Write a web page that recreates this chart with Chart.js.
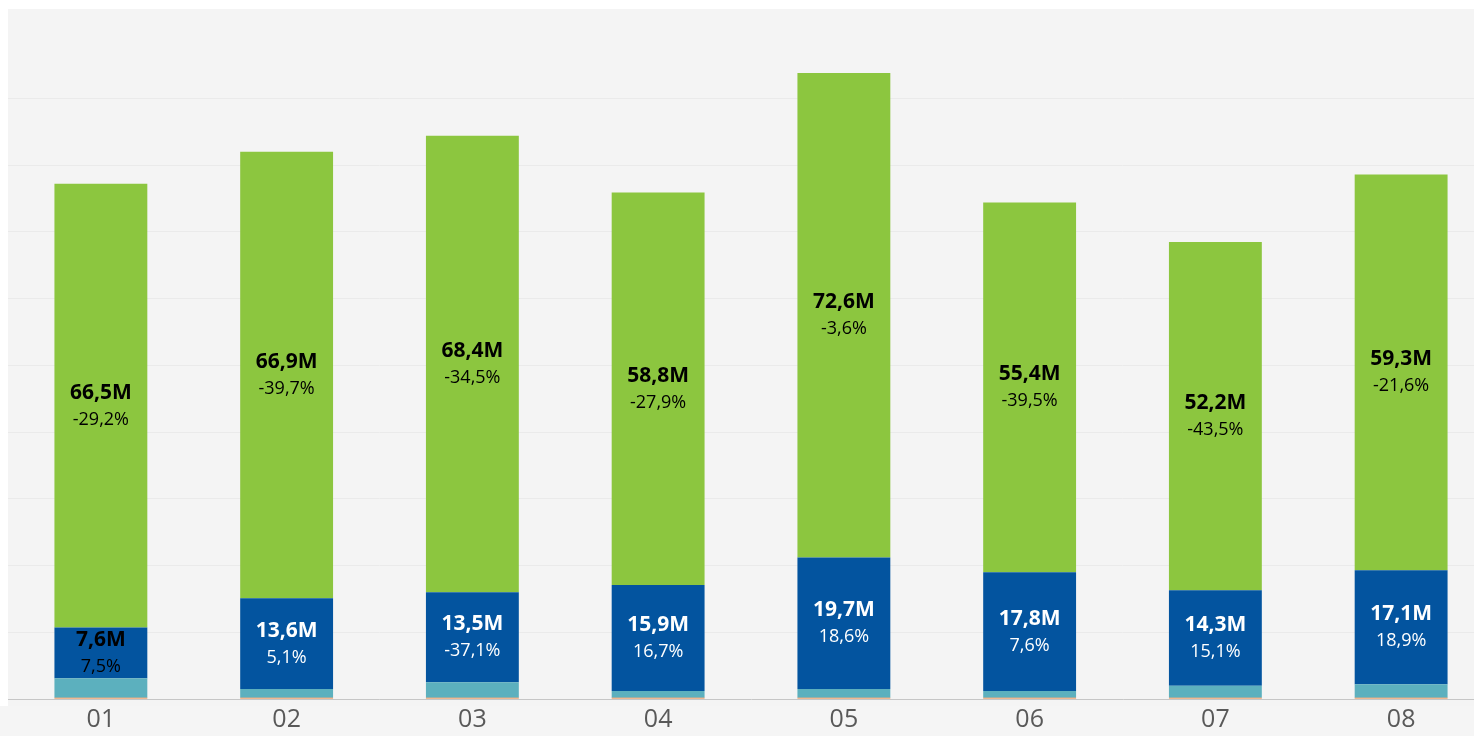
<!DOCTYPE html>
<html>
<head>
<title>Monthly totals</title>
<script src="https://cdn.jsdelivr.net/npm/chart.js@4.4.1/dist/chart.umd.min.js"></script>
<style>
html, body {
margin: 0;
padding: 0;
overflow: hidden;
background: #ffffff;
}
#wrap {
position: absolute;
left: 0;
top: 0;
width: 1494px;
height: 736px;
}
</style>
</head>
<body>
<div id="wrap"><canvas id="bars"></canvas></div>
<script>
// values in millions
var months = ['01', '02', '03', '04', '05', '06', '07', '08'];
var otherVals = [0.2, 0.2, 0.2, 0.2, 0.2, 0.2, 0.2, 0.2];
var smallVals = [2.9, 1.3, 2.3, 1.0, 1.3, 1.0, 1.8, 2.0];
var blueVals = [7.6, 13.6, 13.5, 15.9, 19.7, 17.8, 14.3, 17.1];
var greenVals = [66.5, 66.9, 68.4, 58.8, 72.6, 55.4, 52.2, 59.3];
var blueChange = [7.5, 5.1, -37.1, 16.7, 18.6, 7.6, 15.1, 18.9];
var greenChange = [-29.2, -39.7, -34.5, -27.9, -3.6, -39.5, -43.5, -21.6];

function fmt(v) {
  return v.toFixed(1).replace('.', ',');
}

var bgPlugin = {
  id: 'bg',
  beforeDraw: function (chart) {
    var c = chart.ctx;
    c.save();
    c.fillStyle = '#f4f4f4';
    c.fillRect(8, 9, chart.width - 8, 697);
    c.fillStyle = '#f5f5f5';
    c.fillRect(0, 706, chart.width, chart.height - 706);
    c.restore();
  }
};

var labelPlugin = {
  id: 'segLabels',
  afterDatasetsDraw: function (chart) {
    var c = chart.ctx;
    c.save();
    c.textAlign = 'center';
    c.textBaseline = 'middle';
    var sets = [
      { ds: 2, vals: blueVals, pct: blueChange },
      { ds: 3, vals: greenVals, pct: greenChange }
    ];
    sets.forEach(function (s) {
      var meta = chart.getDatasetMeta(s.ds);
      meta.data.forEach(function (bar, j) {
        var cy = (bar.y + bar.base) / 2;
        var col = '#000000';
        if (s.ds === 2 && j > 0) col = '#ffffff';
        c.fillStyle = col;
        c.font = 'bold 21px "Open Sans"';
        c.fillText(fmt(s.vals[j]) + 'M', bar.x, cy - 13);
        c.font = '18px "Open Sans"';
        c.fillText(fmt(s.pct[j]) + '%', bar.x, cy + 14);
      });
    });
    c.restore();
  }
};

var ctx = document.getElementById('bars').getContext('2d');
var chart = new Chart(ctx, {
  type: 'bar',
  data: {
    labels: months,
    datasets: [
      { label: 'Other', data: otherVals, backgroundColor: '#ed7d31' },
      { label: 'Small', data: smallVals, backgroundColor: '#5cb0be' },
      { label: 'Blue', data: blueVals, backgroundColor: '#03549f' },
      { label: 'Green', data: greenVals, backgroundColor: '#8cc63f' }
    ]
  },
  options: {
    responsive: true,
    maintainAspectRatio: false,
    animation: false,
    layout: { padding: { left: 8, top: 9, right: 0, bottom: 0 } },
    plugins: {
      legend: { display: false },
      tooltip: { enabled: false }
    },
    datasets: {
      bar: { barPercentage: 0.5, categoryPercentage: 1.0, borderWidth: 0 }
    },
    scales: {
      x: {
        stacked: true,
        grid: { display: false, drawTicks: false },
        border: { display: true, color: '#c6c6c6', width: 1, dash: [4, 3] },
        ticks: {
          color: '#595959',
          font: { family: '"Open Sans"', size: 25 },
          padding: 6
        },
        afterFit: function (scale) { scale.height = 37; }
      },
      y: {
        stacked: true,
        min: 0,
        max: 103.4,
        border: { display: false },
        ticks: { display: false, stepSize: 10 },
        grid: {
          drawTicks: false,
          color: function (c) {
            if (c.tick.value === 0 || c.tick.value > 95) return 'rgba(0,0,0,0)';
            return '#eaeaea';
          }
        },
        afterFit: function (scale) { scale.width = 0; }
      }
    }
  },
  plugins: [bgPlugin, labelPlugin]
});
</script>
</body>
</html>
